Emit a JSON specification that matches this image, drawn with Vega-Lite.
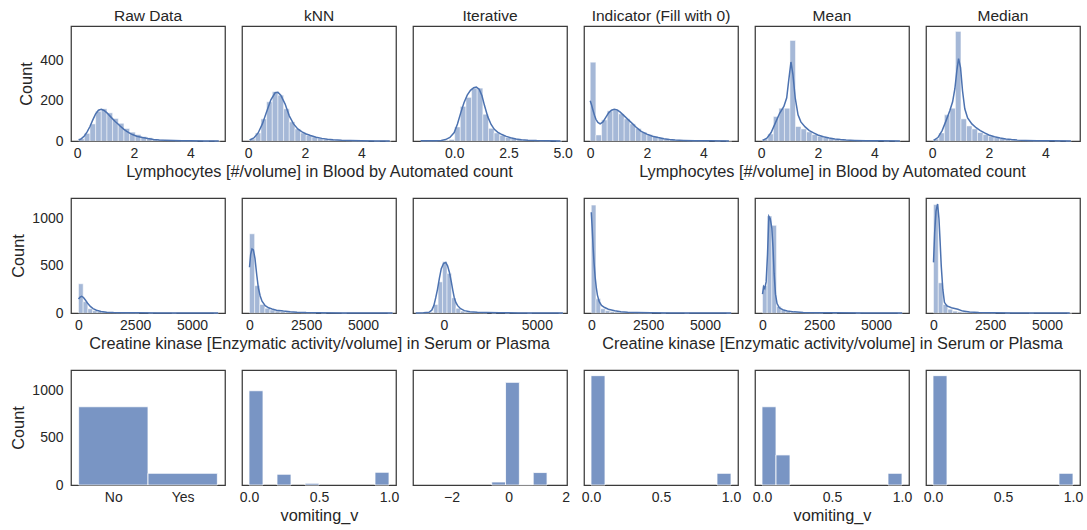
{
"$schema": "https://vega.github.io/schema/vega-lite/v6.json",
"padding": {"left": 10, "top": 7, "right": 5, "bottom": 5},
"background": "white",
"datasets": {
"h": [
{"p":11,"x":0.05,"b":0.25,"n":12},{"p":11,"x":0.25,"b":0.45,"n":38},{"p":11,"x":0.45,"b":0.65,"n":85},{"p":11,"x":0.65,"b":0.85,"n":148},{"p":11,"x":0.85,"b":1.05,"n":160},{"p":11,"x":1.05,"b":1.25,"n":140},{"p":11,"x":1.25,"b":1.45,"n":112},{"p":11,"x":1.45,"b":1.65,"n":88},{"p":11,"x":1.65,"b":1.85,"n":62},{"p":11,"x":1.85,"b":2.05,"n":44},{"p":11,"x":2.05,"b":2.25,"n":32},{"p":11,"x":2.25,"b":2.45,"n":22},{"p":11,"x":2.45,"b":2.65,"n":16},{"p":11,"x":2.65,"b":2.85,"n":10},{"p":11,"x":2.85,"b":3.05,"n":7},{"p":11,"x":3.05,"b":3.25,"n":5},{"p":11,"x":3.25,"b":3.45,"n":3},{"p":11,"x":3.45,"b":3.65,"n":2},{"p":11,"x":3.65,"b":3.85,"n":1},{"p":11,"x":3.85,"b":4.05,"n":1},{"p":11,"x":4.05,"b":4.25,"n":1},{"p":11,"x":4.45,"b":4.65,"n":1},{"p":11,"x":4.85,"b":5.05,"n":1},
{"p":12,"x":0.05,"b":0.25,"n":10},{"p":12,"x":0.25,"b":0.45,"n":40},{"p":12,"x":0.45,"b":0.65,"n":110},{"p":12,"x":0.65,"b":0.85,"n":195},{"p":12,"x":0.85,"b":1.05,"n":245},{"p":12,"x":1.05,"b":1.25,"n":228},{"p":12,"x":1.25,"b":1.45,"n":160},{"p":12,"x":1.45,"b":1.65,"n":95},{"p":12,"x":1.65,"b":1.85,"n":60},{"p":12,"x":1.85,"b":2.05,"n":40},{"p":12,"x":2.05,"b":2.25,"n":28},{"p":12,"x":2.25,"b":2.45,"n":20},{"p":12,"x":2.45,"b":2.65,"n":14},{"p":12,"x":2.65,"b":2.85,"n":9},{"p":12,"x":2.85,"b":3.05,"n":6},{"p":12,"x":3.05,"b":3.25,"n":4},{"p":12,"x":3.25,"b":3.45,"n":3},{"p":12,"x":3.45,"b":3.65,"n":2},{"p":12,"x":3.65,"b":3.85,"n":1},{"p":12,"x":3.85,"b":4.05,"n":1},{"p":12,"x":4.05,"b":4.25,"n":1},{"p":12,"x":4.45,"b":4.65,"n":1},{"p":12,"x":4.85,"b":5.05,"n":1},
{"p":13,"x":-1.54,"b":-1.28,"n":1},{"p":13,"x":-1.28,"b":-1.02,"n":1},{"p":13,"x":-1.02,"b":-0.76,"n":1},{"p":13,"x":-0.76,"b":-0.5,"n":2},{"p":13,"x":-0.5,"b":-0.24,"n":3},{"p":13,"x":-0.24,"b":0.02,"n":8},{"p":13,"x":0.02,"b":0.28,"n":70},{"p":13,"x":0.28,"b":0.54,"n":172},{"p":13,"x":0.54,"b":0.8,"n":217},{"p":13,"x":0.8,"b":1.06,"n":263},{"p":13,"x":1.06,"b":1.32,"n":263},{"p":13,"x":1.32,"b":1.58,"n":133},{"p":13,"x":1.58,"b":1.84,"n":63},{"p":13,"x":1.84,"b":2.1,"n":40},{"p":13,"x":2.1,"b":2.36,"n":28},{"p":13,"x":2.36,"b":2.62,"n":18},{"p":13,"x":2.62,"b":2.88,"n":12},{"p":13,"x":2.88,"b":3.14,"n":8},{"p":13,"x":3.14,"b":3.4,"n":5},{"p":13,"x":3.4,"b":3.66,"n":3},{"p":13,"x":3.66,"b":3.92,"n":2},{"p":13,"x":3.92,"b":4.18,"n":1},{"p":13,"x":4.18,"b":4.44,"n":1},{"p":13,"x":4.7,"b":4.96,"n":1},
{"p":14,"x":0,"b":0.2,"n":392},{"p":14,"x":0.2,"b":0.4,"n":30},{"p":14,"x":0.4,"b":0.6,"n":105},{"p":14,"x":0.6,"b":0.8,"n":150},{"p":14,"x":0.8,"b":1.0,"n":155},{"p":14,"x":1.0,"b":1.2,"n":135},{"p":14,"x":1.2,"b":1.4,"n":110},{"p":14,"x":1.4,"b":1.6,"n":85},{"p":14,"x":1.6,"b":1.8,"n":62},{"p":14,"x":1.8,"b":2.0,"n":44},{"p":14,"x":2.0,"b":2.2,"n":32},{"p":14,"x":2.2,"b":2.4,"n":22},{"p":14,"x":2.4,"b":2.6,"n":16},{"p":14,"x":2.6,"b":2.8,"n":10},{"p":14,"x":2.8,"b":3.0,"n":7},{"p":14,"x":3.0,"b":3.2,"n":5},{"p":14,"x":3.2,"b":3.4,"n":3},{"p":14,"x":3.4,"b":3.6,"n":2},{"p":14,"x":3.6,"b":3.8,"n":1},{"p":14,"x":3.8,"b":4.0,"n":1},{"p":14,"x":4.0,"b":4.2,"n":1},{"p":14,"x":4.4,"b":4.6,"n":1},{"p":14,"x":4.8,"b":5.0,"n":1},
{"p":15,"x":0.04,"b":0.235,"n":10},{"p":15,"x":0.235,"b":0.43,"n":35},{"p":15,"x":0.43,"b":0.625,"n":122},{"p":15,"x":0.625,"b":0.82,"n":163},{"p":15,"x":0.82,"b":1.015,"n":163},{"p":15,"x":1.015,"b":1.21,"n":500},{"p":15,"x":1.21,"b":1.405,"n":72},{"p":15,"x":1.405,"b":1.6,"n":60},{"p":15,"x":1.6,"b":1.795,"n":45},{"p":15,"x":1.795,"b":1.99,"n":32},{"p":15,"x":1.99,"b":2.185,"n":24},{"p":15,"x":2.185,"b":2.38,"n":17},{"p":15,"x":2.38,"b":2.575,"n":12},{"p":15,"x":2.575,"b":2.77,"n":8},{"p":15,"x":2.77,"b":2.965,"n":5},{"p":15,"x":2.965,"b":3.16,"n":4},{"p":15,"x":3.16,"b":3.355,"n":3},{"p":15,"x":3.355,"b":3.55,"n":2},{"p":15,"x":3.55,"b":3.745,"n":1},{"p":15,"x":3.745,"b":3.94,"n":1},{"p":15,"x":3.94,"b":4.135,"n":1},{"p":15,"x":4.33,"b":4.525,"n":1},{"p":15,"x":4.72,"b":4.915,"n":1},
{"p":16,"x":0.04,"b":0.235,"n":10},{"p":16,"x":0.235,"b":0.43,"n":40},{"p":16,"x":0.43,"b":0.625,"n":130},{"p":16,"x":0.625,"b":0.82,"n":163},{"p":16,"x":0.82,"b":1.015,"n":545},{"p":16,"x":1.015,"b":1.21,"n":110},{"p":16,"x":1.21,"b":1.405,"n":75},{"p":16,"x":1.405,"b":1.6,"n":60},{"p":16,"x":1.6,"b":1.795,"n":42},{"p":16,"x":1.795,"b":1.99,"n":32},{"p":16,"x":1.99,"b":2.185,"n":24},{"p":16,"x":2.185,"b":2.38,"n":17},{"p":16,"x":2.38,"b":2.575,"n":12},{"p":16,"x":2.575,"b":2.77,"n":8},{"p":16,"x":2.77,"b":2.965,"n":5},{"p":16,"x":2.965,"b":3.16,"n":4},{"p":16,"x":3.16,"b":3.355,"n":3},{"p":16,"x":3.355,"b":3.55,"n":2},{"p":16,"x":3.55,"b":3.745,"n":1},{"p":16,"x":3.745,"b":3.94,"n":1},{"p":16,"x":3.94,"b":4.135,"n":1},{"p":16,"x":4.33,"b":4.525,"n":1},{"p":16,"x":4.72,"b":4.915,"n":1},
{"p":21,"x":10,"b":215,"n":310},{"p":21,"x":215,"b":420,"n":120},{"p":21,"x":420,"b":625,"n":45},{"p":21,"x":625,"b":830,"n":25},{"p":21,"x":830,"b":1035,"n":15},{"p":21,"x":1035,"b":1240,"n":10},{"p":21,"x":1240,"b":1445,"n":7},{"p":21,"x":1445,"b":1650,"n":5},{"p":21,"x":1650,"b":1855,"n":4},{"p":21,"x":1855,"b":2060,"n":3},{"p":21,"x":2060,"b":2265,"n":2},{"p":21,"x":2265,"b":2470,"n":2},{"p":21,"x":2470,"b":2675,"n":1},{"p":21,"x":3085,"b":3290,"n":1},{"p":21,"x":4110,"b":4315,"n":1},{"p":21,"x":5955,"b":6160,"n":1},
{"p":22,"x":10,"b":235,"n":840},{"p":22,"x":235,"b":460,"n":290},{"p":22,"x":460,"b":685,"n":90},{"p":22,"x":685,"b":910,"n":50},{"p":22,"x":910,"b":1135,"n":32},{"p":22,"x":1135,"b":1360,"n":22},{"p":22,"x":1360,"b":1585,"n":15},{"p":22,"x":1585,"b":1810,"n":10},{"p":22,"x":1810,"b":2035,"n":8},{"p":22,"x":2035,"b":2260,"n":5},{"p":22,"x":2260,"b":2485,"n":3},{"p":22,"x":2485,"b":2710,"n":2},{"p":22,"x":2710,"b":2935,"n":1},{"p":22,"x":3160,"b":3385,"n":1},{"p":22,"x":4060,"b":4285,"n":1},{"p":22,"x":6085,"b":6310,"n":1},
{"p":23,"x":-1510,"b":-1270,"n":1},{"p":23,"x":-1270,"b":-1030,"n":1},{"p":23,"x":-1030,"b":-790,"n":2},{"p":23,"x":-790,"b":-550,"n":8},{"p":23,"x":-550,"b":-310,"n":90},{"p":23,"x":-310,"b":-70,"n":330},{"p":23,"x":-70,"b":170,"n":545},{"p":23,"x":170,"b":410,"n":420},{"p":23,"x":410,"b":650,"n":160},{"p":23,"x":650,"b":890,"n":50},{"p":23,"x":890,"b":1130,"n":20},{"p":23,"x":1130,"b":1370,"n":10},{"p":23,"x":1370,"b":1610,"n":6},{"p":23,"x":1610,"b":1850,"n":4},{"p":23,"x":1850,"b":2090,"n":3},{"p":23,"x":2090,"b":2330,"n":2},{"p":23,"x":2570,"b":2810,"n":1},{"p":23,"x":3290,"b":3530,"n":1},{"p":23,"x":4490,"b":4730,"n":1},{"p":23,"x":6170,"b":6410,"n":1},
{"p":24,"x":0,"b":205,"n":1145},{"p":24,"x":205,"b":410,"n":150},{"p":24,"x":410,"b":615,"n":45},{"p":24,"x":615,"b":820,"n":25},{"p":24,"x":820,"b":1025,"n":15},{"p":24,"x":1025,"b":1230,"n":10},{"p":24,"x":1230,"b":1435,"n":7},{"p":24,"x":1435,"b":1640,"n":5},{"p":24,"x":1640,"b":1845,"n":4},{"p":24,"x":1845,"b":2050,"n":3},{"p":24,"x":2050,"b":2255,"n":2},{"p":24,"x":2255,"b":2460,"n":2},{"p":24,"x":2460,"b":2665,"n":1},{"p":24,"x":3075,"b":3280,"n":1},{"p":24,"x":4100,"b":4305,"n":1},{"p":24,"x":5945,"b":6150,"n":1},
{"p":25,"x":10,"b":215,"n":290},{"p":25,"x":215,"b":420,"n":1030},{"p":25,"x":420,"b":625,"n":930},{"p":25,"x":625,"b":830,"n":70},{"p":25,"x":830,"b":1035,"n":30},{"p":25,"x":1035,"b":1240,"n":15},{"p":25,"x":1240,"b":1445,"n":10},{"p":25,"x":1445,"b":1650,"n":7},{"p":25,"x":1650,"b":1855,"n":5},{"p":25,"x":1855,"b":2060,"n":4},{"p":25,"x":2060,"b":2265,"n":3},{"p":25,"x":2265,"b":2470,"n":2},{"p":25,"x":2470,"b":2675,"n":1},{"p":25,"x":3085,"b":3290,"n":1},{"p":25,"x":4110,"b":4315,"n":1},{"p":25,"x":5955,"b":6160,"n":1},
{"p":26,"x":10,"b":220,"n":1150},{"p":26,"x":220,"b":430,"n":320},{"p":26,"x":430,"b":640,"n":90},{"p":26,"x":640,"b":850,"n":40},{"p":26,"x":850,"b":1060,"n":20},{"p":26,"x":1060,"b":1270,"n":12},{"p":26,"x":1270,"b":1480,"n":8},{"p":26,"x":1480,"b":1690,"n":6},{"p":26,"x":1690,"b":1900,"n":4},{"p":26,"x":1900,"b":2110,"n":3},{"p":26,"x":2110,"b":2320,"n":2},{"p":26,"x":2320,"b":2530,"n":2},{"p":26,"x":2530,"b":2740,"n":1},{"p":26,"x":3160,"b":3370,"n":1},{"p":26,"x":4210,"b":4420,"n":1},{"p":26,"x":5890,"b":6100,"n":1},
{"p":31,"x":-0.5,"b":0.5,"n":830},{"p":31,"x":0.5,"b":1.5,"n":124},
{"p":32,"x":0,"b":0.1,"n":1000},{"p":32,"x":0.2,"b":0.3,"n":114},{"p":32,"x":0.4,"b":0.5,"n":18},{"p":32,"x":0.9,"b":1.0,"n":135},
{"p":33,"x":-0.59,"b":-0.105,"n":32},{"p":33,"x":-0.105,"b":0.38,"n":1089},{"p":33,"x":0.38,"b":0.865,"n":5},{"p":33,"x":0.865,"b":1.35,"n":132},
{"p":34,"x":0,"b":0.1,"n":1160},{"p":34,"x":0.9,"b":1.0,"n":124},
{"p":35,"x":0,"b":0.1,"n":830},{"p":35,"x":0.1,"b":0.2,"n":319},{"p":35,"x":0.9,"b":1.0,"n":124},
{"p":36,"x":0,"b":0.1,"n":1160},{"p":36,"x":0.9,"b":1.0,"n":124}
],
"k": [
{"p":11,"x":0.05,"n":4},{"p":11,"x":0.15,"n":12},{"p":11,"x":0.25,"n":25},{"p":11,"x":0.35,"n":45},{"p":11,"x":0.45,"n":72},{"p":11,"x":0.55,"n":105},{"p":11,"x":0.65,"n":135},{"p":11,"x":0.75,"n":153},{"p":11,"x":0.85,"n":158},{"p":11,"x":0.95,"n":152},{"p":11,"x":1.05,"n":140},{"p":11,"x":1.15,"n":125},{"p":11,"x":1.25,"n":110},{"p":11,"x":1.35,"n":96},{"p":11,"x":1.45,"n":83},{"p":11,"x":1.55,"n":70},{"p":11,"x":1.65,"n":58},{"p":11,"x":1.75,"n":48},{"p":11,"x":1.85,"n":39},{"p":11,"x":1.95,"n":32},{"p":11,"x":2.1,"n":24},{"p":11,"x":2.3,"n":17},{"p":11,"x":2.5,"n":12},{"p":11,"x":2.7,"n":8},{"p":11,"x":2.9,"n":5.5},{"p":11,"x":3.1,"n":4},{"p":11,"x":3.4,"n":2.5},{"p":11,"x":3.7,"n":1.5},{"p":11,"x":4.0,"n":1},{"p":11,"x":4.5,"n":0.5},{"p":11,"x":5.0,"n":0.3},
{"p":12,"x":0.05,"n":5},{"p":12,"x":0.2,"n":15},{"p":12,"x":0.35,"n":40},{"p":12,"x":0.5,"n":85},{"p":12,"x":0.65,"n":145},{"p":12,"x":0.8,"n":205},{"p":12,"x":0.95,"n":240},{"p":12,"x":1.05,"n":242},{"p":12,"x":1.15,"n":228},{"p":12,"x":1.3,"n":185},{"p":12,"x":1.45,"n":125},{"p":12,"x":1.6,"n":85},{"p":12,"x":1.75,"n":60},{"p":12,"x":1.9,"n":45},{"p":12,"x":2.05,"n":35},{"p":12,"x":2.2,"n":27},{"p":12,"x":2.4,"n":19},{"p":12,"x":2.6,"n":13},{"p":12,"x":2.8,"n":9},{"p":12,"x":3.0,"n":6},{"p":12,"x":3.3,"n":3.5},{"p":12,"x":3.6,"n":2},{"p":12,"x":4.0,"n":1},{"p":12,"x":4.5,"n":0.5},{"p":12,"x":5.0,"n":0.3},
{"p":13,"x":-1.55,"n":0.8},{"p":13,"x":-1.2,"n":1},{"p":13,"x":-0.9,"n":1.5},{"p":13,"x":-0.6,"n":3},{"p":13,"x":-0.4,"n":7},{"p":13,"x":-0.2,"n":18},{"p":13,"x":0.0,"n":42},{"p":13,"x":0.15,"n":85},{"p":13,"x":0.3,"n":140},{"p":13,"x":0.45,"n":190},{"p":13,"x":0.6,"n":228},{"p":13,"x":0.75,"n":252},{"p":13,"x":0.9,"n":265},{"p":13,"x":1.02,"n":268},{"p":13,"x":1.15,"n":258},{"p":13,"x":1.28,"n":225},{"p":13,"x":1.4,"n":175},{"p":13,"x":1.55,"n":120},{"p":13,"x":1.7,"n":82},{"p":13,"x":1.85,"n":58},{"p":13,"x":2.0,"n":44},{"p":13,"x":2.2,"n":32},{"p":13,"x":2.4,"n":23},{"p":13,"x":2.6,"n":16},{"p":13,"x":2.85,"n":10},{"p":13,"x":3.1,"n":6.5},{"p":13,"x":3.4,"n":4},{"p":13,"x":3.8,"n":2},{"p":13,"x":4.3,"n":1},{"p":13,"x":4.9,"n":0.4},
{"p":14,"x":0.0,"n":200},{"p":14,"x":0.05,"n":178},{"p":14,"x":0.1,"n":152},{"p":14,"x":0.15,"n":128},{"p":14,"x":0.2,"n":108},{"p":14,"x":0.27,"n":92},{"p":14,"x":0.35,"n":85},{"p":14,"x":0.45,"n":95},{"p":14,"x":0.55,"n":118},{"p":14,"x":0.65,"n":140},{"p":14,"x":0.75,"n":153},{"p":14,"x":0.85,"n":158},{"p":14,"x":0.95,"n":155},{"p":14,"x":1.05,"n":145},{"p":14,"x":1.2,"n":125},{"p":14,"x":1.35,"n":105},{"p":14,"x":1.5,"n":85},{"p":14,"x":1.65,"n":65},{"p":14,"x":1.8,"n":48},{"p":14,"x":2.0,"n":34},{"p":14,"x":2.2,"n":24},{"p":14,"x":2.4,"n":17},{"p":14,"x":2.6,"n":11},{"p":14,"x":2.8,"n":7.5},{"p":14,"x":3.0,"n":5},{"p":14,"x":3.3,"n":3},{"p":14,"x":3.7,"n":1.5},{"p":14,"x":4.2,"n":0.8},{"p":14,"x":4.9,"n":0.3},
{"p":15,"x":0.05,"n":3},{"p":15,"x":0.2,"n":14},{"p":15,"x":0.35,"n":42},{"p":15,"x":0.5,"n":90},{"p":15,"x":0.65,"n":138},{"p":15,"x":0.8,"n":172},{"p":15,"x":0.9,"n":215},{"p":15,"x":0.97,"n":300},{"p":15,"x":1.05,"n":393},{"p":15,"x":1.12,"n":330},{"p":15,"x":1.2,"n":215},{"p":15,"x":1.3,"n":130},{"p":15,"x":1.4,"n":95},{"p":15,"x":1.55,"n":70},{"p":15,"x":1.7,"n":52},{"p":15,"x":1.85,"n":40},{"p":15,"x":2.0,"n":30},{"p":15,"x":2.2,"n":21},{"p":15,"x":2.4,"n":15},{"p":15,"x":2.6,"n":10},{"p":15,"x":2.8,"n":7},{"p":15,"x":3.0,"n":5},{"p":15,"x":3.3,"n":3},{"p":15,"x":3.7,"n":1.5},{"p":15,"x":4.2,"n":0.8},{"p":15,"x":4.9,"n":0.3},
{"p":16,"x":0.05,"n":3},{"p":16,"x":0.2,"n":17},{"p":16,"x":0.35,"n":52},{"p":16,"x":0.5,"n":105},{"p":16,"x":0.62,"n":150},{"p":16,"x":0.72,"n":195},{"p":16,"x":0.8,"n":260},{"p":16,"x":0.87,"n":350},{"p":16,"x":0.93,"n":410},{"p":16,"x":1.0,"n":365},{"p":16,"x":1.07,"n":250},{"p":16,"x":1.15,"n":160},{"p":16,"x":1.25,"n":115},{"p":16,"x":1.4,"n":85},{"p":16,"x":1.55,"n":66},{"p":16,"x":1.7,"n":52},{"p":16,"x":1.85,"n":40},{"p":16,"x":2.0,"n":30},{"p":16,"x":2.2,"n":21},{"p":16,"x":2.4,"n":15},{"p":16,"x":2.6,"n":10},{"p":16,"x":2.8,"n":7},{"p":16,"x":3.0,"n":5},{"p":16,"x":3.3,"n":3},{"p":16,"x":3.7,"n":1.5},{"p":16,"x":4.2,"n":0.8},{"p":16,"x":4.9,"n":0.3},
{"p":21,"x":10,"n":148},{"p":21,"x":80,"n":168},{"p":21,"x":150,"n":176},{"p":21,"x":230,"n":165},{"p":21,"x":320,"n":135},{"p":21,"x":420,"n":100},{"p":21,"x":530,"n":70},{"p":21,"x":650,"n":47},{"p":21,"x":800,"n":30},{"p":21,"x":1000,"n":17},{"p":21,"x":1250,"n":9},{"p":21,"x":1550,"n":5},{"p":21,"x":2000,"n":3},{"p":21,"x":2600,"n":1.5},{"p":21,"x":3500,"n":0.8},{"p":21,"x":4500,"n":0.5},{"p":21,"x":6150,"n":0.2},
{"p":22,"x":10,"n":485},{"p":22,"x":60,"n":620},{"p":22,"x":120,"n":680},{"p":22,"x":180,"n":670},{"p":22,"x":250,"n":580},{"p":22,"x":330,"n":400},{"p":22,"x":400,"n":265},{"p":22,"x":480,"n":180},{"p":22,"x":560,"n":125},{"p":22,"x":700,"n":78},{"p":22,"x":850,"n":55},{"p":22,"x":1000,"n":42},{"p":22,"x":1200,"n":30},{"p":22,"x":1500,"n":20},{"p":22,"x":1800,"n":13},{"p":22,"x":2100,"n":8},{"p":22,"x":2500,"n":4},{"p":22,"x":3000,"n":2},{"p":22,"x":4000,"n":0.8},{"p":22,"x":5000,"n":0.4},{"p":22,"x":6300,"n":0.2},
{"p":23,"x":-1510,"n":1},{"p":23,"x":-1100,"n":2},{"p":23,"x":-800,"n":8},{"p":23,"x":-650,"n":30},{"p":23,"x":-540,"n":78},{"p":23,"x":-440,"n":160},{"p":23,"x":-340,"n":254},{"p":23,"x":-240,"n":370},{"p":23,"x":-140,"n":470},{"p":23,"x":-20,"n":525},{"p":23,"x":100,"n":537},{"p":23,"x":200,"n":500},{"p":23,"x":300,"n":430},{"p":23,"x":400,"n":330},{"p":23,"x":480,"n":240},{"p":23,"x":560,"n":160},{"p":23,"x":650,"n":110},{"p":23,"x":740,"n":78},{"p":23,"x":900,"n":45},{"p":23,"x":1100,"n":25},{"p":23,"x":1400,"n":13},{"p":23,"x":1800,"n":7},{"p":23,"x":2300,"n":4},{"p":23,"x":3000,"n":2},{"p":23,"x":4000,"n":1},{"p":23,"x":5000,"n":0.6},{"p":23,"x":6400,"n":0.3},
{"p":24,"x":0,"n":1068},{"p":24,"x":40,"n":900},{"p":24,"x":80,"n":700},{"p":24,"x":120,"n":537},{"p":24,"x":170,"n":380},{"p":24,"x":220,"n":270},{"p":24,"x":270,"n":190},{"p":24,"x":350,"n":120},{"p":24,"x":450,"n":80},{"p":24,"x":590,"n":58},{"p":24,"x":750,"n":40},{"p":24,"x":1030,"n":25},{"p":24,"x":1300,"n":13},{"p":24,"x":1600,"n":7},{"p":24,"x":2000,"n":4},{"p":24,"x":2600,"n":2},{"p":24,"x":3500,"n":0.8},{"p":24,"x":4500,"n":0.5},{"p":24,"x":6150,"n":0.2},
{"p":25,"x":10,"n":200},{"p":25,"x":60,"n":280},{"p":25,"x":110,"n":260},{"p":25,"x":170,"n":330},{"p":25,"x":230,"n":620},{"p":25,"x":290,"n":1025},{"p":25,"x":350,"n":1000},{"p":25,"x":420,"n":900},{"p":25,"x":470,"n":700},{"p":25,"x":520,"n":420},{"p":25,"x":580,"n":200},{"p":25,"x":650,"n":100},{"p":25,"x":750,"n":55},{"p":25,"x":900,"n":35},{"p":25,"x":1100,"n":22},{"p":25,"x":1400,"n":12},{"p":25,"x":1800,"n":6},{"p":25,"x":2400,"n":3},{"p":25,"x":3200,"n":1.5},{"p":25,"x":4500,"n":0.6},{"p":25,"x":6150,"n":0.2},
{"p":26,"x":10,"n":537},{"p":26,"x":60,"n":850},{"p":26,"x":120,"n":1080},{"p":26,"x":190,"n":1156},{"p":26,"x":250,"n":1000},{"p":26,"x":300,"n":760},{"p":26,"x":350,"n":500},{"p":26,"x":420,"n":250},{"p":26,"x":490,"n":113},{"p":26,"x":600,"n":75},{"p":26,"x":800,"n":55},{"p":26,"x":1080,"n":40},{"p":26,"x":1300,"n":20},{"p":26,"x":1600,"n":10},{"p":26,"x":2000,"n":5},{"p":26,"x":2600,"n":2.5},{"p":26,"x":3500,"n":1},{"p":26,"x":4500,"n":0.5},{"p":26,"x":6000,"n":0.2}
]
},
"spacing": 172,
"bounds": "flush",
"vconcat": [
{"hconcat": [
{"width":154,"height":115,"title":"Raw Data","encoding":{"x":{"field":"x","type":"quantitative","scale":{"domain":[-0.22,5.22],"nice":false,"zero":false},"axis":{"values":[0,2,4],"title":null}},"y":{"field":"n","type":"quantitative","scale":{"domain":[0,572],"nice":false},"axis":{"values":[0,200,400],"format":"d","title":"Count"}}},
 "layer":[{"data":{"name":"h"},"transform":[{"filter":"datum.p==11"}],"mark":{"type":"bar","fill":"#4C72B0","fillOpacity":0.5,"stroke":"#ffffff","strokeWidth":0.5},"encoding":{"x2":{"field":"b"},"y2":{"datum":0}}},{"data":{"name":"k"},"transform":[{"filter":"datum.p==11"}],"mark":{"type":"line","color":"#4C72B0","strokeWidth":1.5},"encoding":{}}]},
{"width":154,"height":115,"title":"kNN","encoding":{"x":{"field":"x","type":"quantitative","scale":{"domain":[-0.22,5.22],"nice":false,"zero":false},"axis":{"values":[0,2,4],"title":"Lymphocytes [#/volume] in Blood by Automated count"}},"y":{"field":"n","type":"quantitative","scale":{"domain":[0,572],"nice":false},"axis":null}},
 "layer":[{"data":{"name":"h"},"transform":[{"filter":"datum.p==12"}],"mark":{"type":"bar","fill":"#4C72B0","fillOpacity":0.5,"stroke":"#ffffff","strokeWidth":0.5},"encoding":{"x2":{"field":"b"},"y2":{"datum":0}}},{"data":{"name":"k"},"transform":[{"filter":"datum.p==12"}],"mark":{"type":"line","color":"#4C72B0","strokeWidth":1.5},"encoding":{}}]},
{"width":154,"height":115,"title":"Iterative","encoding":{"x":{"field":"x","type":"quantitative","scale":{"domain":[-1.9,5.2],"nice":false,"zero":false},"axis":{"values":[0,2.5,5],"format":".1f","title":null}},"y":{"field":"n","type":"quantitative","scale":{"domain":[0,572],"nice":false},"axis":null}},
 "layer":[{"data":{"name":"h"},"transform":[{"filter":"datum.p==13"}],"mark":{"type":"bar","fill":"#4C72B0","fillOpacity":0.5,"stroke":"#ffffff","strokeWidth":0.5},"encoding":{"x2":{"field":"b"},"y2":{"datum":0}}},{"data":{"name":"k"},"transform":[{"filter":"datum.p==13"}],"mark":{"type":"line","color":"#4C72B0","strokeWidth":1.5},"encoding":{}}]},
{"width":154,"height":115,"title":"Indicator (Fill with 0)","encoding":{"x":{"field":"x","type":"quantitative","scale":{"domain":[-0.22,5.22],"nice":false,"zero":false},"axis":{"values":[0,2,4],"title":null}},"y":{"field":"n","type":"quantitative","scale":{"domain":[0,572],"nice":false},"axis":null}},
 "layer":[{"data":{"name":"h"},"transform":[{"filter":"datum.p==14"}],"mark":{"type":"bar","fill":"#4C72B0","fillOpacity":0.5,"stroke":"#ffffff","strokeWidth":0.5},"encoding":{"x2":{"field":"b"},"y2":{"datum":0}}},{"data":{"name":"k"},"transform":[{"filter":"datum.p==14"}],"mark":{"type":"line","color":"#4C72B0","strokeWidth":1.5},"encoding":{}}]},
{"width":154,"height":115,"title":"Mean","encoding":{"x":{"field":"x","type":"quantitative","scale":{"domain":[-0.22,5.22],"nice":false,"zero":false},"axis":{"values":[0,2,4],"title":"Lymphocytes [#/volume] in Blood by Automated count"}},"y":{"field":"n","type":"quantitative","scale":{"domain":[0,572],"nice":false},"axis":null}},
 "layer":[{"data":{"name":"h"},"transform":[{"filter":"datum.p==15"}],"mark":{"type":"bar","fill":"#4C72B0","fillOpacity":0.5,"stroke":"#ffffff","strokeWidth":0.5},"encoding":{"x2":{"field":"b"},"y2":{"datum":0}}},{"data":{"name":"k"},"transform":[{"filter":"datum.p==15"}],"mark":{"type":"line","color":"#4C72B0","strokeWidth":1.5},"encoding":{}}]},
{"width":154,"height":115,"title":"Median","encoding":{"x":{"field":"x","type":"quantitative","scale":{"domain":[-0.22,5.22],"nice":false,"zero":false},"axis":{"values":[0,2,4],"title":null}},"y":{"field":"n","type":"quantitative","scale":{"domain":[0,572],"nice":false},"axis":null}},
 "layer":[{"data":{"name":"h"},"transform":[{"filter":"datum.p==16"}],"mark":{"type":"bar","fill":"#4C72B0","fillOpacity":0.5,"stroke":"#ffffff","strokeWidth":0.5},"encoding":{"x2":{"field":"b"},"y2":{"datum":0}}},{"data":{"name":"k"},"transform":[{"filter":"datum.p==16"}],"mark":{"type":"line","color":"#4C72B0","strokeWidth":1.5},"encoding":{}}]}
], "spacing": 17, "bounds": "flush"},
{"hconcat": [
{"width":154,"height":115,"encoding":{"x":{"field":"x","type":"quantitative","scale":{"domain":[-320,6450],"nice":false,"zero":false},"axis":{"values":[0,2500,5000],"format":"d","title":null}},"y":{"field":"n","type":"quantitative","scale":{"domain":[0,1220],"nice":false},"axis":{"values":[0,500,1000],"format":"d","title":"Count"}}},
 "layer":[{"data":{"name":"h"},"transform":[{"filter":"datum.p==21"}],"mark":{"type":"bar","fill":"#4C72B0","fillOpacity":0.5,"stroke":"#ffffff","strokeWidth":0.5},"encoding":{"x2":{"field":"b"},"y2":{"datum":0}}},{"data":{"name":"k"},"transform":[{"filter":"datum.p==21"}],"mark":{"type":"line","color":"#4C72B0","strokeWidth":1.5},"encoding":{}}]},
{"width":154,"height":115,"encoding":{"x":{"field":"x","type":"quantitative","scale":{"domain":[-320,6450],"nice":false,"zero":false},"axis":{"values":[0,2500,5000],"format":"d","title":"Creatine kinase [Enzymatic activity/volume] in Serum or Plasma"}},"y":{"field":"n","type":"quantitative","scale":{"domain":[0,1220],"nice":false},"axis":null}},
 "layer":[{"data":{"name":"h"},"transform":[{"filter":"datum.p==22"}],"mark":{"type":"bar","fill":"#4C72B0","fillOpacity":0.5,"stroke":"#ffffff","strokeWidth":0.5},"encoding":{"x2":{"field":"b"},"y2":{"datum":0}}},{"data":{"name":"k"},"transform":[{"filter":"datum.p==22"}],"mark":{"type":"line","color":"#4C72B0","strokeWidth":1.5},"encoding":{}}]},
{"width":154,"height":115,"encoding":{"x":{"field":"x","type":"quantitative","scale":{"domain":[-1660,6620],"nice":false,"zero":false},"axis":{"values":[0,5000],"format":"d","title":null}},"y":{"field":"n","type":"quantitative","scale":{"domain":[0,1220],"nice":false},"axis":null}},
 "layer":[{"data":{"name":"h"},"transform":[{"filter":"datum.p==23"}],"mark":{"type":"bar","fill":"#4C72B0","fillOpacity":0.5,"stroke":"#ffffff","strokeWidth":0.5},"encoding":{"x2":{"field":"b"},"y2":{"datum":0}}},{"data":{"name":"k"},"transform":[{"filter":"datum.p==23"}],"mark":{"type":"line","color":"#4C72B0","strokeWidth":1.5},"encoding":{}}]},
{"width":154,"height":115,"encoding":{"x":{"field":"x","type":"quantitative","scale":{"domain":[-320,6450],"nice":false,"zero":false},"axis":{"values":[0,2500,5000],"format":"d","title":null}},"y":{"field":"n","type":"quantitative","scale":{"domain":[0,1220],"nice":false},"axis":null}},
 "layer":[{"data":{"name":"h"},"transform":[{"filter":"datum.p==24"}],"mark":{"type":"bar","fill":"#4C72B0","fillOpacity":0.5,"stroke":"#ffffff","strokeWidth":0.5},"encoding":{"x2":{"field":"b"},"y2":{"datum":0}}},{"data":{"name":"k"},"transform":[{"filter":"datum.p==24"}],"mark":{"type":"line","color":"#4C72B0","strokeWidth":1.5},"encoding":{}}]},
{"width":154,"height":115,"encoding":{"x":{"field":"x","type":"quantitative","scale":{"domain":[-320,6450],"nice":false,"zero":false},"axis":{"values":[0,2500,5000],"format":"d","title":"Creatine kinase [Enzymatic activity/volume] in Serum or Plasma"}},"y":{"field":"n","type":"quantitative","scale":{"domain":[0,1220],"nice":false},"axis":null}},
 "layer":[{"data":{"name":"h"},"transform":[{"filter":"datum.p==25"}],"mark":{"type":"bar","fill":"#4C72B0","fillOpacity":0.5,"stroke":"#ffffff","strokeWidth":0.5},"encoding":{"x2":{"field":"b"},"y2":{"datum":0}}},{"data":{"name":"k"},"transform":[{"filter":"datum.p==25"}],"mark":{"type":"line","color":"#4C72B0","strokeWidth":1.5},"encoding":{}}]},
{"width":154,"height":115,"encoding":{"x":{"field":"x","type":"quantitative","scale":{"domain":[-320,6450],"nice":false,"zero":false},"axis":{"values":[0,2500,5000],"format":"d","title":null}},"y":{"field":"n","type":"quantitative","scale":{"domain":[0,1220],"nice":false},"axis":null}},
 "layer":[{"data":{"name":"h"},"transform":[{"filter":"datum.p==26"}],"mark":{"type":"bar","fill":"#4C72B0","fillOpacity":0.5,"stroke":"#ffffff","strokeWidth":0.5},"encoding":{"x2":{"field":"b"},"y2":{"datum":0}}},{"data":{"name":"k"},"transform":[{"filter":"datum.p==26"}],"mark":{"type":"line","color":"#4C72B0","strokeWidth":1.5},"encoding":{}}]}
], "spacing": 17, "bounds": "flush"},
{"hconcat": [
{"width":154,"height":115,"data":{"name":"h"},"transform":[{"filter":"datum.p==31"}],"mark":{"type":"bar","fill":"#4C72B0","fillOpacity":0.75,"stroke":"#ffffff","strokeWidth":0.8},"encoding":{"x":{"field":"x","type":"quantitative","scale":{"domain":[-0.61,1.61],"nice":false,"zero":false},"axis":{"values":[0,1],"labelExpr":"datum.value==0 ? 'No' : 'Yes'","title":null}},"x2":{"field":"b"},"y":{"field":"n","type":"quantitative","scale":{"domain":[0,1220],"nice":false},"axis":{"values":[0,500,1000],"format":"d","title":"Count"}},"y2":{"datum":0}}},
{"width":154,"height":115,"data":{"name":"h"},"transform":[{"filter":"datum.p==32"}],"mark":{"type":"bar","fill":"#4C72B0","fillOpacity":0.75,"stroke":"#ffffff","strokeWidth":0.8},"encoding":{"x":{"field":"x","type":"quantitative","scale":{"domain":[-0.05,1.05],"nice":false,"zero":false},"axis":{"values":[0,0.5,1],"format":".1f","title":"vomiting_v"}},"x2":{"field":"b"},"y":{"field":"n","type":"quantitative","scale":{"domain":[0,1220],"nice":false},"axis":null},"y2":{"datum":0}}},
{"width":154,"height":115,"data":{"name":"h"},"transform":[{"filter":"datum.p==33"}],"mark":{"type":"bar","fill":"#4C72B0","fillOpacity":0.75,"stroke":"#ffffff","strokeWidth":0.8},"encoding":{"x":{"field":"x","type":"quantitative","scale":{"domain":[-3.35,2.05],"nice":false,"zero":false},"axis":{"values":[-2,0,2],"title":null}},"x2":{"field":"b"},"y":{"field":"n","type":"quantitative","scale":{"domain":[0,1220],"nice":false},"axis":null},"y2":{"datum":0}}},
{"width":154,"height":115,"data":{"name":"h"},"transform":[{"filter":"datum.p==34"}],"mark":{"type":"bar","fill":"#4C72B0","fillOpacity":0.75,"stroke":"#ffffff","strokeWidth":0.8},"encoding":{"x":{"field":"x","type":"quantitative","scale":{"domain":[-0.05,1.05],"nice":false,"zero":false},"axis":{"values":[0,0.5,1],"format":".1f","title":null}},"x2":{"field":"b"},"y":{"field":"n","type":"quantitative","scale":{"domain":[0,1220],"nice":false},"axis":null},"y2":{"datum":0}}},
{"width":154,"height":115,"data":{"name":"h"},"transform":[{"filter":"datum.p==35"}],"mark":{"type":"bar","fill":"#4C72B0","fillOpacity":0.75,"stroke":"#ffffff","strokeWidth":0.8},"encoding":{"x":{"field":"x","type":"quantitative","scale":{"domain":[-0.05,1.05],"nice":false,"zero":false},"axis":{"values":[0,0.5,1],"format":".1f","title":"vomiting_v"}},"x2":{"field":"b"},"y":{"field":"n","type":"quantitative","scale":{"domain":[0,1220],"nice":false},"axis":null},"y2":{"datum":0}}},
{"width":154,"height":115,"data":{"name":"h"},"transform":[{"filter":"datum.p==36"}],"mark":{"type":"bar","fill":"#4C72B0","fillOpacity":0.75,"stroke":"#ffffff","strokeWidth":0.8},"encoding":{"x":{"field":"x","type":"quantitative","scale":{"domain":[-0.05,1.05],"nice":false,"zero":false},"axis":{"values":[0,0.5,1],"format":".1f","title":null}},"x2":{"field":"b"},"y":{"field":"n","type":"quantitative","scale":{"domain":[0,1220],"nice":false},"axis":null},"y2":{"datum":0}}}
], "spacing": 17, "bounds": "flush"}
],
"config": {
"font": "Liberation Sans",
"view": {"stroke": "#3b3b3b", "strokeWidth": 1.25},
"axis": {"grid": false, "ticks": false, "domain": false, "labelFont": "Liberation Sans", "labelFontSize": 14, "labelColor": "#262626", "titleFont": "Liberation Sans", "titleFontSize": 16.3, "titleFontWeight": "normal", "titleColor": "#262626", "labelFlush": false, "labelOverlap": false},
"axisX": {"labelPadding": 5, "titlePadding": 3.5},
"axisY": {"labelPadding": 8, "titlePadding": 5},
"title": {"font": "Liberation Sans", "fontSize": 15.5, "fontWeight": "normal", "color": "#262626", "offset": 2}
}
}
